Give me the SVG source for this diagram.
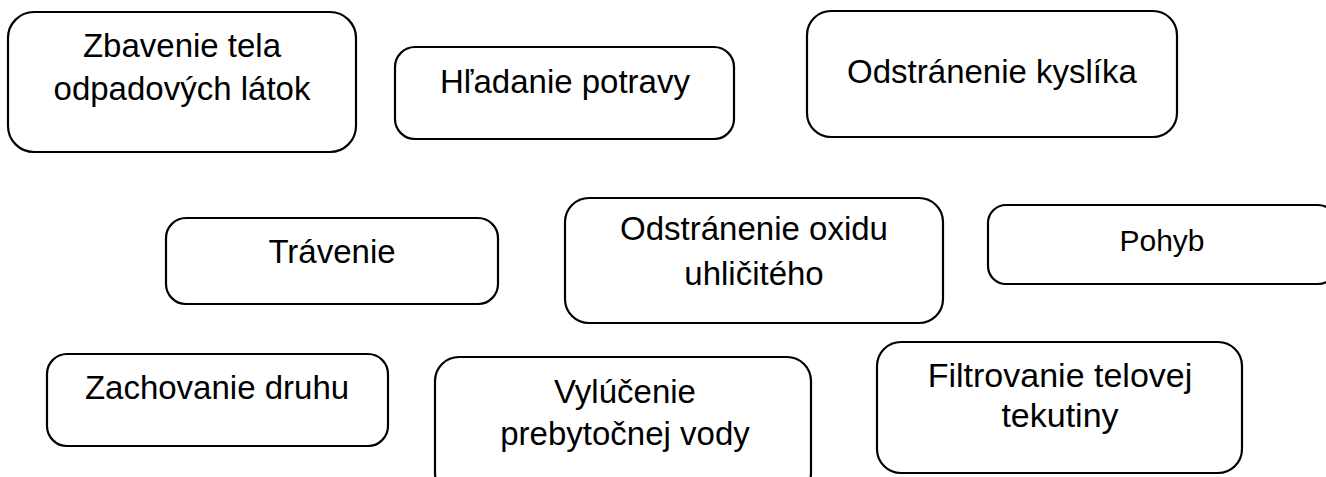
<svg xmlns="http://www.w3.org/2000/svg" width="1326" height="477" viewBox="0 0 1326 477">
<style>
.box{fill:#fff;stroke:#000;stroke-width:2.2}
.t{font-family:"Liberation Sans",Arial,sans-serif;font-size:33px;fill:#000;text-anchor:middle}
</style>
<rect width="1326" height="477" fill="#fff"/>
<g id="connectors"></g>
<g id="n1"><rect class="box" x="8" y="12" width="348" height="140" rx="26"/><text class="t" x="182" y="57">Zbavenie tela</text><text class="t" x="182" y="100">odpadových látok</text></g>
<g id="n2"><rect class="box" x="395" y="47" width="339" height="92" rx="20"/><text class="t" x="565" y="93">Hľadanie potravy</text></g>
<g id="n3"><rect class="box" x="807" y="11" width="370" height="126" rx="24"/><text class="t" x="992" y="83">Odstránenie kyslíka</text></g>
<g id="n4"><rect class="box" x="166" y="218" width="332" height="86" rx="20"/><text class="t" x="332" y="263">Trávenie</text></g>
<g id="n5"><rect class="box" x="565" y="198" width="378" height="125" rx="24"/><text class="t" x="754" y="240">Odstránenie oxidu</text><text class="t" x="754" y="285">uhličitého</text></g>
<g id="n6"><rect class="box" x="988" y="205" width="348" height="79" rx="18"/><text class="t" x="1162" y="251" style="font-size:30px">Pohyb</text></g>
<g id="n7"><rect class="box" x="47" y="354" width="341" height="92" rx="20"/><text class="t" x="217" y="399">Zachovanie druhu</text></g>
<g id="n8"><rect class="box" x="435" y="357" width="376" height="140" rx="24"/><text class="t" x="625" y="403">Vylúčenie</text><text class="t" x="625" y="445">prebytočnej vody</text></g>
<g id="n9"><rect class="box" x="877" y="342" width="365" height="131" rx="24"/><text class="t" x="1060" y="387" style="font-size:34px">Filtrovanie telovej</text><text class="t" x="1060" y="427" style="font-size:34px">tekutiny</text></g>
</svg>
